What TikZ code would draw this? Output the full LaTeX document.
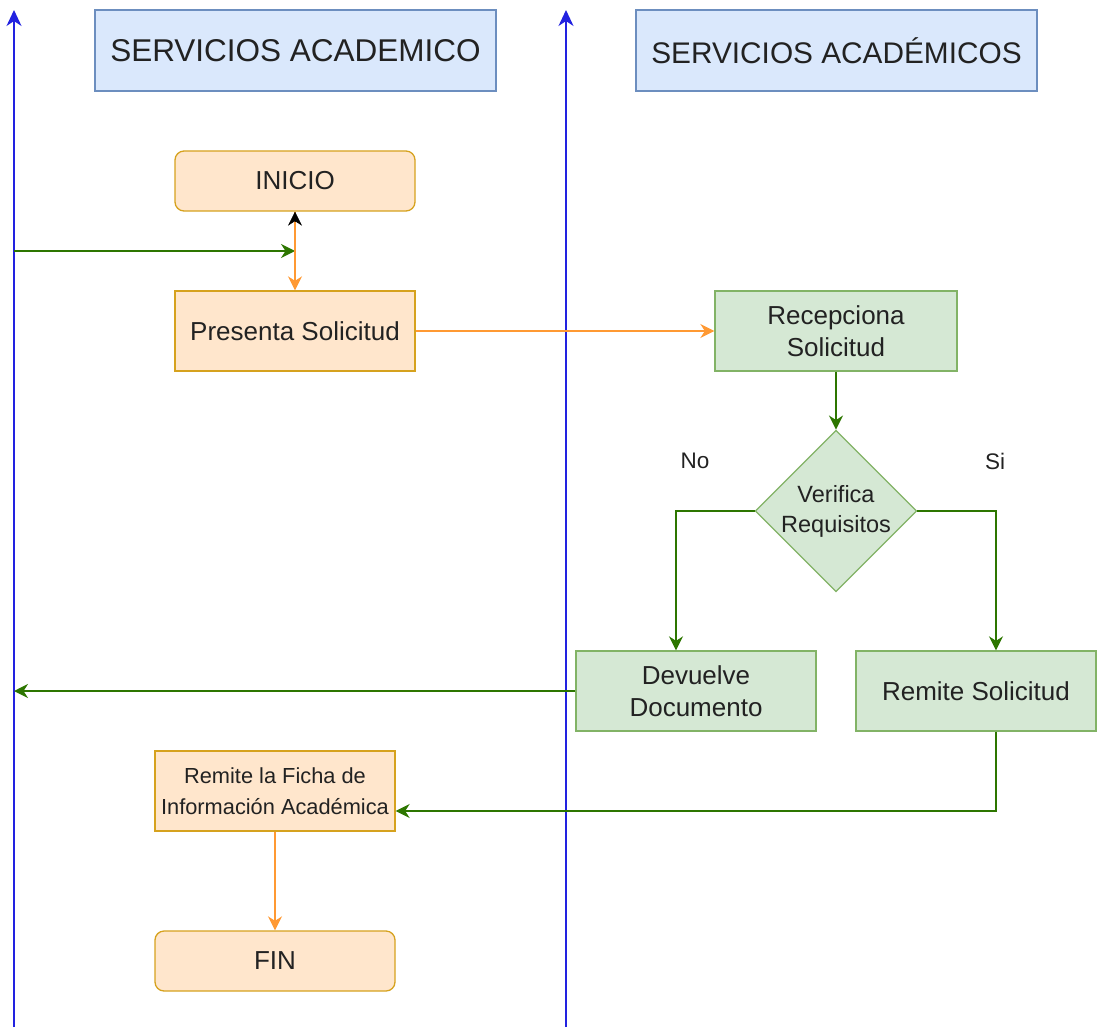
\documentclass[tikz,border=0pt]{standalone}
\usepackage{fontspec}
\setmainfont{Liberation Sans}
\usetikzlibrary{arrows.meta,shapes.geometric,calc}
\definecolor{ofill}{HTML}{FFE6CC}
\definecolor{ostroke}{HTML}{D6A21E}
\definecolor{gfill}{HTML}{D5E8D4}
\definecolor{gstroke}{HTML}{82B366}
\definecolor{bfill}{HTML}{DAE8FC}
\definecolor{bstroke}{HTML}{6C8EBF}
\definecolor{garr}{HTML}{2D7600}
\definecolor{oarr}{HTML}{FF9933}
\definecolor{bline}{HTML}{2222E0}
\definecolor{txt}{HTML}{222222}
\begin{document}
\begin{tikzpicture}[x=1pt,y=-1pt,
  box/.style={draw, line width=1.3pt, inner sep=0pt, align=center, text=txt,
    font=\fontsize{26}{32}\selectfont},
  obox/.style={box, fill=ofill, draw=ostroke, minimum width=240pt, minimum height=80pt},
  gbox/.style={box, fill=gfill, draw=gstroke, minimum width=240pt, minimum height=80pt},
  header/.style={box, fill=bfill, draw=bstroke, minimum width=401pt, minimum height=81pt,
    font=\fontsize{31.5}{36}\selectfont},
  lbl/.style={text=txt, inner sep=0pt, font=\fontsize{22.5}{26}\selectfont},
  blueline/.style={draw=bline, line width=1.8pt, -{Stealth[length=16pt,width=15pt,inset=5pt]}},
  garrow/.style={draw=garr, line width=1.6pt, -{Stealth[length=14pt,width=14pt,inset=4.5pt]}},
  oarrow/.style={draw=oarr, line width=1.6pt, -{Stealth[length=14pt,width=14pt,inset=4.5pt]}},
]
\useasboundingbox (0,0) rectangle (1107,1027);

% swimlane lines
\coordinate (l1b) at (14,1027);
\coordinate (l1t) at (14,10);
\coordinate (l2b) at (566,1027);
\coordinate (l2t) at (566,10);
\draw[blueline] (l1b) -- (l1t);
\draw[blueline] (l2b) -- (l2t);

% headers
\node[header] (h1) at (295.5,50.5) {SERVICIOS ACADEMICO};
\node[header, font=\fontsize{29.8}{36}\selectfont] (h2) at (836.5,50.5) {SERVICIOS ACADÉMICOS};

% nodes
\node[obox, minimum height=60pt, rounded corners=9pt] (inicio) at (295,181) {INICIO};
\node[obox] (presenta) at (295,331) {Presenta Solicitud};
\node[gbox, minimum width=242pt] (recep) at (836,331) {Recepciona\\Solicitud};
\node[box, diamond, aspect=1, fill=gfill, draw=gstroke, minimum width=160pt, minimum height=160pt,
  font=\fontsize{23.5}{30}\selectfont] (verifica) at (836,511) {Verifica\\Requisitos};
\node[gbox] (devuelve) at (696,691) {Devuelve\\Documento};
\node[gbox] (remite) at (976,691) {Remite Solicitud};
\node[obox, font=\fontsize{21.8}{30.5}\selectfont] (ficha) at (275,791) {Remite la Ficha de\\Información Académica};
\node[obox, minimum height=60pt, rounded corners=9pt] (fin) at (275,961) {FIN};

\node[lbl] (no) at (695,461) {No};
\node[lbl] (si) at (995,461) {Si};

% connectors
\coordinate (g1) at (14,251);
\draw[garrow] (g1) -- (inicio.south |- g1);
\draw[oarrow] (inicio.south) -- (presenta.north);
\draw[draw=black, line width=0.6pt, -{Stealth[length=14pt,width=14pt,inset=4.5pt]}] ($(inicio.south)+(0,15)$) -- (inicio.south);
\draw[oarr, line width=1.6pt] ($(inicio.south)+(0,10)$) -- ($(inicio.south)+(0,40)$);
\draw[oarrow] (presenta.east) -- (recep.west);
\draw[garrow] (recep.south) -- (verifica.north);
\coordinate (dvin) at ($(devuelve.north)+(-20,0)$);
\coordinate (rmin) at ($(remite.north)+(20,0)$);
\draw[garrow] (verifica.west) -| (dvin);
\draw[garrow] (verifica.east) -| (rmin);
\draw[garrow] (devuelve.west) -- (devuelve.west -| l1b);
\coordinate (rmout) at ($(remite.south)+(20,0)$);
\coordinate (fcin) at ($(ficha.east)+(0,20)$);
\draw[garrow] (rmout) |- (fcin);
\draw[oarrow] (ficha.south) -- (fin.north);
\end{tikzpicture}
\end{document}
